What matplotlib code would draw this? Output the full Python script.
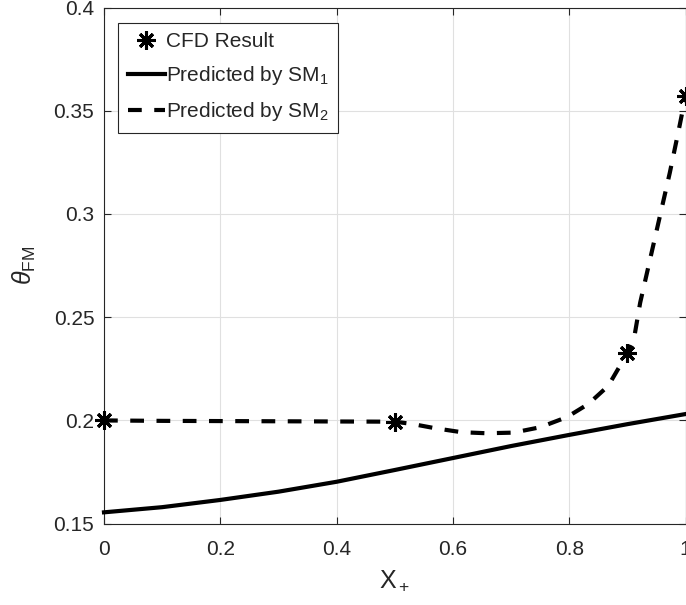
import matplotlib
matplotlib.use("Agg")
import matplotlib.pyplot as plt

# Data
cfd_x = [0.0, 0.5, 0.9, 1.0]
cfd_y = [0.2, 0.1994, 0.2326, 0.357]

sm1_x = [0.0, 0.1, 0.2, 0.3, 0.4, 0.5, 0.6, 0.7, 0.8, 0.9, 1.0]
sm1_y = [0.1555, 0.158, 0.1615, 0.1655, 0.1703, 0.1760, 0.1818, 0.1876, 0.1930, 0.1982, 0.2031]

sm2_x = [0.0, 0.1, 0.2, 0.3, 0.4, 0.5, 0.53, 0.57, 0.615, 0.658, 0.704, 0.75,
         0.796, 0.833, 0.867, 0.9, 0.913, 0.922, 0.939, 0.956, 0.973, 0.99, 1.0]
sm2_y = [0.2, 0.1998, 0.1997, 0.1996, 0.1995, 0.1994, 0.1983, 0.1962, 0.1943, 0.1938, 0.1941, 0.1967,
         0.2016, 0.2080, 0.2167, 0.2326, 0.2422, 0.2570, 0.2780, 0.2990, 0.3200, 0.3430, 0.357]

xticks = [0, 0.2, 0.4, 0.6, 0.8, 1]
xtick_labels = ["0", "0.2", "0.4", "0.6", "0.8", "1"]
yticks = [0.15, 0.2, 0.25, 0.3, 0.35, 0.4]
ytick_labels = ["0.15", "0.2", "0.25", "0.3", "0.35", "0.4"]

plt.rcParams['font.family'] = ['Liberation Sans', 'DejaVu Sans']
plt.rcParams['mathtext.fontset'] = 'custom'
plt.rcParams['mathtext.rm'] = 'Liberation Sans'
plt.rcParams['mathtext.it'] = 'Liberation Sans:italic'

txt = '#262626'

fig = plt.figure(figsize=(6.86, 6.05), dpi=100)
ax = fig.add_axes([0.1516, 0.1344, 0.8477, 0.8532])

ax.plot(sm1_x, sm1_y, color='black', lw=3, label='Predicted by SM$_1$', clip_on=False, zorder=3)
ax.plot(sm2_x, sm2_y, color='black', lw=3, dashes=(3.3, 3.0), label='Predicted by SM$_2$',
        clip_on=False, zorder=3)
ax.plot(cfd_x, cfd_y, linestyle='none', marker=(8, 2, 0), markersize=13, markeredgewidth=2.2,
        color='black', label='CFD Result', clip_on=False, zorder=4)

ax.set_xlim(0, 1)
ax.set_ylim(0.15, 0.4)
ax.set_xticks(xticks)
ax.set_xticklabels(xtick_labels)
ax.set_yticks(yticks)
ax.set_yticklabels(ytick_labels)
ax.tick_params(direction='in', top=True, right=True, labelsize=15, colors=txt, length=5, width=0.8)
ax.tick_params(axis='x', pad=12)
ax.tick_params(axis='y', pad=7)
for s in ax.spines.values():
    s.set_color(txt)
    s.set_linewidth(0.8)
ax.grid(True, color='#e0e0e0', lw=0.8)
ax.set_axisbelow(True)

ax.set_xlabel('X$_+$', fontsize=18, color=txt, labelpad=7)
ax.set_ylabel(r'$\theta_{\mathrm{FM}}$', fontsize=18, color=txt, labelpad=11)

handles, labels = ax.get_legend_handles_labels()
order = [2, 0, 1]
leg = ax.legend([handles[i] for i in order], [labels[i] for i in order],
                loc='upper left', bbox_to_anchor=(0.0245, 0.97), borderaxespad=0,
                fontsize=15, fancybox=False, framealpha=1, edgecolor=txt,
                handlelength=1.8, handletextpad=0.05, borderpad=0.45, labelspacing=0.62)
leg.get_frame().set_linewidth(0.8)
for t in leg.get_texts():
    t.set_color(txt)

fig.savefig('out.png', dpi=100)
